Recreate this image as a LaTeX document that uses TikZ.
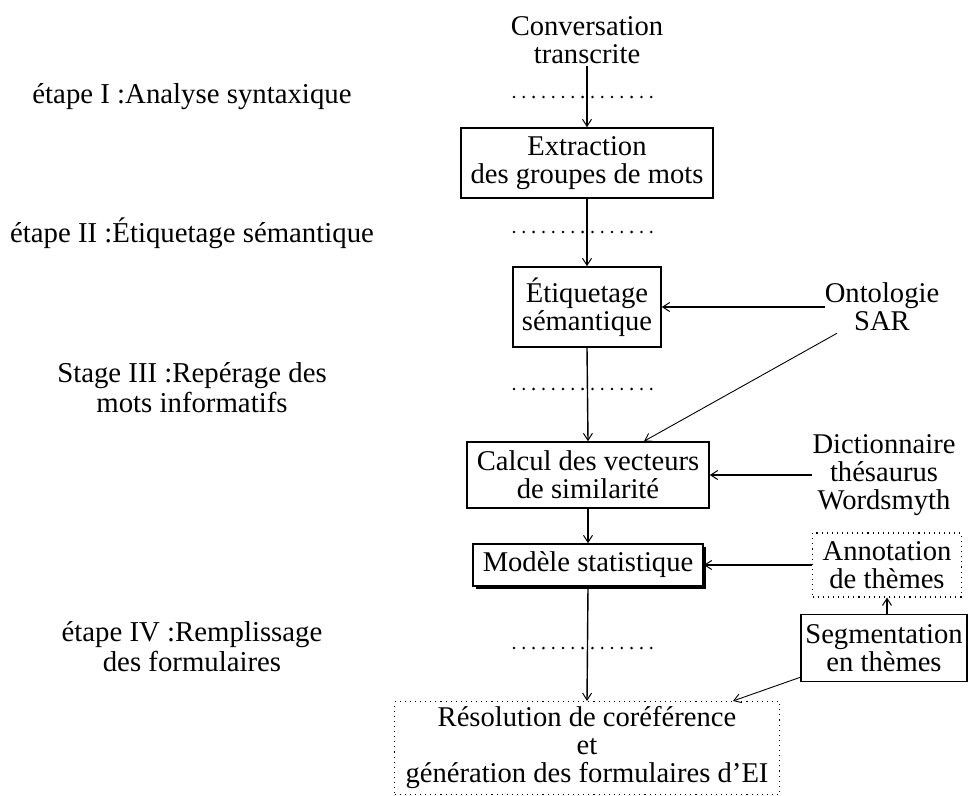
\documentclass[tikz,border=0pt]{standalone}
\usepackage{fontspec}
\setmainfont{Liberation Serif}
\usetikzlibrary{arrows.meta,shadows,calc}
\begin{document}
\begin{tikzpicture}[x=1pt,y=-1pt,
  every node/.style={font=\fontsize{28.6}{28}\selectfont, align=center, inner sep=0pt},
  stagelabel/.style={font=\fontsize{28.8}{30}\selectfont},
  box/.style={draw, line width=1.6pt},
  dotbox/.style={draw, line width=1.1pt, dash pattern=on 1.1pt off 4pt},
  dotrow/.style={line width=2.8pt, line cap=round, dash pattern=on 0pt off 9.8pt},
  arr/.style={line width=1.4pt, -{Straight Barb[length=7pt,width=9pt,line width=1pt]}},
  thinarr/.style={line width=0.9pt, -{Straight Barb[length=7pt,width=9pt,line width=0.9pt]}},
  shadowed/.style={drop shadow={shadow xshift=2.5pt, shadow yshift=-2.5pt, fill=black, opacity=1}}
]
\useasboundingbox (0,0) rectangle (968,795);

% left stage labels
\node[stagelabel, anchor=base] (l1) at (192,103) {étape I :Analyse syntaxique};
\node[stagelabel, anchor=base] (l2) at (192,242) {étape II :Étiquetage sémantique};
\node[stagelabel] (l3) at (192,388) {Stage III :Repérage des\\mots informatifs};
\node[stagelabel] (l4) at (192,647) {étape IV :Remplissage\\des formulaires};

% dotted separators
\draw[dotrow] (514,97) -- (660,97);
\draw[dotrow] (514,232) -- (660,232);
\draw[dotrow] (514,389) -- (660,389);
\draw[dotrow] (514,648) -- (660,648);

% main flow
\node (conv) at (587,40) {Conversation\\transcrite};
\node[box, minimum width=252pt, minimum height=70pt] (extr) at (587,163) {Extraction\\des groupes de mots};
\node[box, minimum width=148pt, minimum height=80pt] (etiq) at (587,307) {Étiquetage\\sémantique};
\node (onto) at (882,307) {Ontologie\\SAR};
\node[box, minimum width=242pt, minimum height=66pt] (calc) at (588,475) {Calcul des vecteurs\\de similarité};
\node (dict) at (884,475) {Dictionnaire\\thésaurus\\Wordsmyth};
\node[box, shadowed, fill=white, minimum width=230pt, minimum height=42pt] (mod) at (588,565) {Modèle statistique};
\node[dotbox, minimum width=149pt, minimum height=64pt] (annot) at (887,565) {Annotation\\de thèmes};
\node[box, minimum width=166pt, minimum height=67pt] (segm) at (884,648) {Segmentation\\en thèmes};
\node[dotbox, minimum width=385pt, minimum height=93pt] (resol) at (587,748) {Résolution de coréférence\\et\\génération des formulaires d’EI};

% connectors
\draw[arr] ([yshift=-2pt]conv.south) -- (extr.north);
\draw[arr] (extr.south) -- (etiq.north);
\draw[arr] (etiq.south) -- (calc.north);
\draw[arr] (calc.south) -- (mod.north);
\draw[arr] (mod.south) -- (resol.north);
\draw[arr] (onto.west) -- (etiq.east);
\draw[arr] (dict.west) -- (calc.east);
\draw[arr] (annot.west) -- (mod.east);
\draw[thinarr] ([xshift=-45pt,yshift=-2pt]onto.south) -- ([xshift=56pt]calc.north);
\draw[arr] (segm.north -| annot.south) -- (annot.south);
\draw[thinarr] ([yshift=5pt]segm.south west) -- ([xshift=146pt]resol.north);
\end{tikzpicture}
\end{document}
